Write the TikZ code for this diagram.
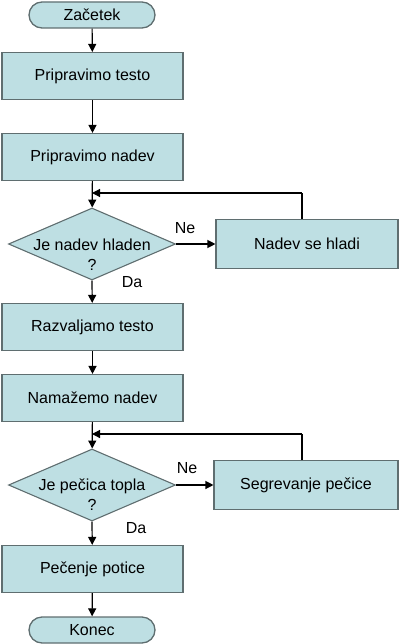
\documentclass[tikz,border=0pt]{standalone}
\usepackage{fontspec}
\setmainfont{Liberation Sans}
\usetikzlibrary{shapes.geometric,shapes.misc,arrows.meta}
\definecolor{boxfill}{RGB}{190,223,227}
\definecolor{boxline}{RGB}{95,110,112}
\begin{document}
\begin{tikzpicture}[x=1pt,y=-1pt,
  font=\fontsize{16}{18}\selectfont,
  stepbox/.style={draw=boxline, fill=boxfill, line width=1.1pt, minimum width=181pt, minimum height=47pt, inner sep=0pt},
  sidebox/.style={draw=boxline, fill=boxfill, line width=1.1pt, minimum height=49pt, inner sep=0pt},
  term/.style={draw=boxline, fill=boxfill, line width=1.3pt, rounded rectangle, minimum width=126pt, minimum height=26pt, inner sep=0pt},
  decision/.style={draw=boxline, fill=boxfill, line width=1.1pt, diamond, minimum width=167pt, minimum height=72pt, inner sep=0pt},
  dtext/.style={align=center, font=\fontsize{16}{20}\selectfont, inner sep=0pt},
  arr/.style={line width=1.2pt, -{Triangle[length=8pt,width=8pt]}},
  ln/.style={line width=1.2pt}]
\useasboundingbox (0,0) rectangle (400,644);
\node[term] (start) at (92,15) {Začetek};
\node[stepbox] (b1) at (92.5,76) {Pripravimo testo};
\node[stepbox] (b2) at (92.5,157) {Pripravimo nadev};
\coordinate (j1) at (92,193);
\node[decision] (d1) at (92,244) {};
\node[dtext] (d1t) at (92,255) {Je nadev hladen\\?};
\node[sidebox, minimum width=182pt] (h1) at (307,244) {Nadev se hladi};
\node[stepbox] (b3) at (92.5,327) {Razvaljamo testo};
\node[stepbox] (b4) at (92.5,398) {Namažemo nadev};
\coordinate (j2) at (92,434);
\node[decision] (d2) at (92,485) {};
\node[dtext] (d2t) at (92,495) {Je pečica topla\\?};
\node[sidebox, minimum width=184pt] (h2) at (306,485) {Segrevanje pečice};
\node[stepbox] (b5) at (92.5,569) {Pečenje potice};
\node[term] (end) at (92,630) {Konec};
\coordinate (c1) at (302,193);
\coordinate (c2) at (302,434);
\node (ne1) at (185,228) {Ne};
\node (da1) at (132,282) {Da};
\node (ne2) at (187,468) {Ne};
\node (da2) at (136,528) {Da};
\draw[arr] (start) -- (b1);
\draw[arr] (b1) -- (b2);
\draw[arr] (b2) -- (d1);
\draw[arr] (d1.east) -- (h1.west);
\draw[ln] (h1.north -| c1) -- (c1);
\draw[arr] (c1) -- (j1);
\draw[arr] (d1.south) -- (b3);
\draw[arr] (b3) -- (b4);
\draw[arr] (b4) -- (d2);
\draw[arr] (d2.east) -- (h2.west);
\draw[ln] (h2.north -| c2) -- (c2);
\draw[arr] (c2) -- (j2);
\draw[arr] (d2.south) -- (b5);
\draw[arr] (b5) -- (end);
\end{tikzpicture}
\end{document}
